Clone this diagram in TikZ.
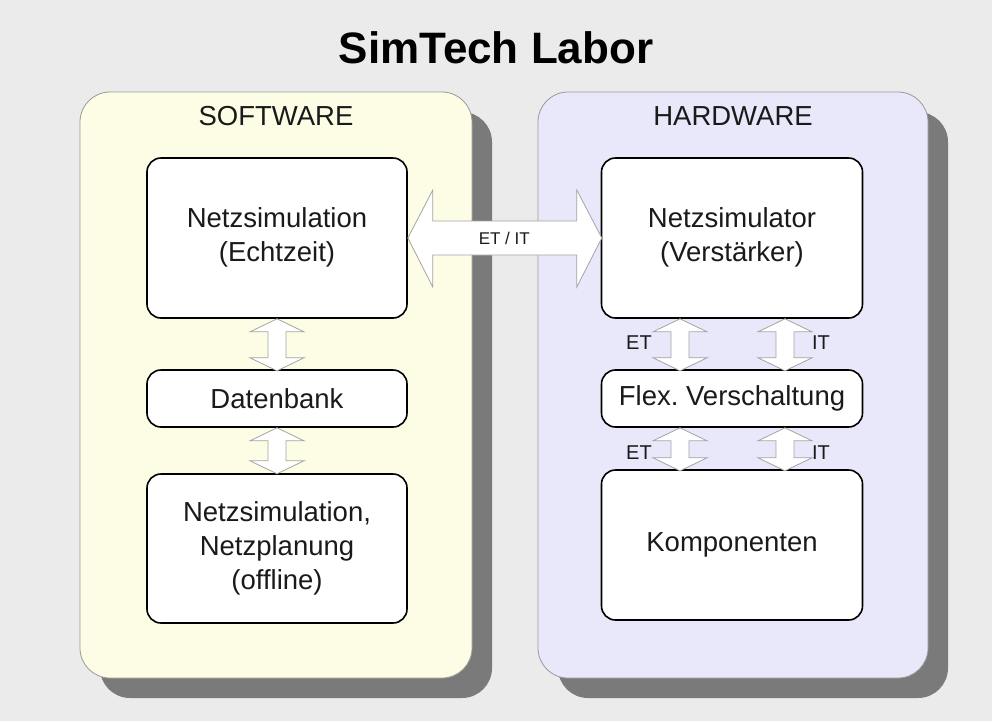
\documentclass[tikz,border=0pt]{standalone}
\usepackage{fontspec}
\setmainfont{Liberation Sans}
\usetikzlibrary{calc}
\frenchspacing
\definecolor{bgc}{HTML}{EBEBEB}
\definecolor{swc}{HTML}{FDFDE6}
\definecolor{hwc}{HTML}{E8E8FA}
\definecolor{shc}{HTML}{7A7A7A}
\definecolor{pbc}{HTML}{9A9A9A}
\definecolor{arc}{HTML}{A4A4A4}
\definecolor{txc}{HTML}{1A1A1A}
\tikzset{
  panel/.style={draw=pbc, line width=0.8pt, rounded corners=30pt},
  shadowbox/.style={fill=shc, rounded corners=30pt},
  inbox/.style={draw=black, line width=1.6pt, fill=white, rounded corners=14pt, text=txc,
    font=\fontsize{27.5}{34}\selectfont, align=center, inner sep=0pt},
  ptitle/.style={text=txc, font=\fontsize{27.5}{30}\selectfont},
  arr/.style={draw=arc, line width=0.8pt, fill=white, line join=miter},
  lbl/.style={text=txc, font=\fontsize{20}{22}\selectfont, inner sep=0pt},
}
\newcommand\lines[1]{\raisebox{-8pt}{\begin{tabular}{@{}c@{}}#1\end{tabular}}}
\newcommand\vdarr[2]{% start (top tip), total length
  \draw[arr] #1 -- ++(27,13) -- ++(-18,0) -- ++(0,#2-26) -- ++(18,0) -- ++(-27,13)
    -- ++(-27,-13) -- ++(18,0) -- ++(0,26-#2) -- ++(-18,0) -- cycle;}
\begin{document}
\begin{tikzpicture}[x=1pt,y=-1pt]
\useasboundingbox (0,0) rectangle (992,721);
\fill[bgc] (0,0) rectangle (992,721);
% title
\node[text=black, font=\fontsize{44}{50}\selectfont\bfseries] (title) at (496,48) {SimTech Labor};
% shadows
\fill[shadowbox] (100,112) rectangle (492,698);
\fill[shadowbox] (558,112) rectangle (948,698);
% panels
\filldraw[panel, fill=swc] (80,92) rectangle (472,678);
\filldraw[panel, fill=hwc] (538,92) rectangle (928,678);
\node[ptitle] (sw) at (276,116) {SOFTWARE};
\node[ptitle] (hw) at (733,116) {HARDWARE};
% software boxes
\node[inbox, minimum width=260pt, minimum height=160pt] (rt) at (277,238) {\lines{Netzsimulation\\(Echtzeit)}};
\node[inbox, minimum width=260pt, minimum height=57pt] (db) at (277,398.5) {Datenbank};
\node[inbox, minimum width=260pt, minimum height=149pt] (off) at (277,548.5) {\lines{Netzsimulation,\\Netzplanung\\(offline)}};
% hardware boxes
\node[inbox, minimum width=261pt, minimum height=160pt] (ns) at (732,238) {\lines{Netzsimulator\\(Verstärker)}};
\node[inbox, minimum width=261pt, minimum height=57pt] (fv) at (732,398.5) {Flex. Verschaltung};
\node[inbox, minimum width=261pt, minimum height=150pt] (ko) at (732,545) {Komponenten};
% big double arrow
\draw[arr] (rt.east) -- ++(25,-48) -- ++(0,31) -- ++(144,0) -- ++(0,-31) -- ++(25,48)
  -- ++(-25,49) -- ++(0,-32) -- ++(-144,0) -- ++(0,32) -- cycle;
\node[text=txc, font=\fontsize{17}{19}\selectfont] (etit) at ($(rt.east)!0.5!(ns.west)$) {ET / IT};
% software vertical arrows
\vdarr{(rt.south)}{52}
\vdarr{(db.south)}{46}
% hardware vertical arrows
\vdarr{($(ns.south)+(-52,0)$)}{52}
\vdarr{($(ns.south)+(53,0)$)}{52}
\vdarr{($(fv.south)+(-52,0)$)}{43}
\vdarr{($(fv.south)+(53,0)$)}{43}
\node[lbl] (et1) at (639,343) {ET};
\node[lbl] (it1) at (821,343) {IT};
\node[lbl] (et2) at (639,453) {ET};
\node[lbl] (it2) at (821,453) {IT};
\end{tikzpicture}
\end{document}
